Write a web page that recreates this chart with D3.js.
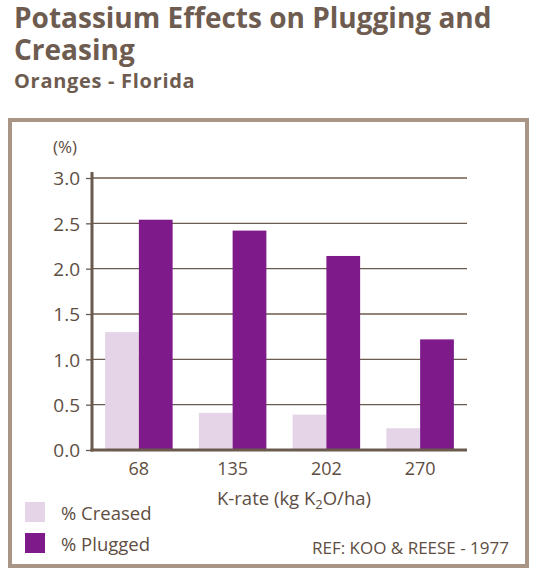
<!DOCTYPE html>
<html>
<head>
<meta charset="utf-8">
<script src="https://cdn.jsdelivr.net/npm/d3@7"></script>
<style>
  body { margin: 0; background: #fff; }
  text { font-family: "Open Sans", sans-serif; fill: #5e4d42; }
</style>
</head>
<body>
<div id="chart"></div>
<script>
// Data
const kRates = ["68", "135", "202", "270"];
const creased = [1.30, 0.41, 0.39, 0.24];
const plugged = [2.54, 2.42, 2.14, 1.22];
const yTicks = [0, 0.5, 1.0, 1.5, 2.0, 2.5, 3.0];
const seriesNames = ["% Creased", "% Plugged"];
const seriesColors = ["#e5d3e8", "#7e1a8a"];

const width = 533, height = 572;
const axisColor = "#6b5b4f";

const svg = d3.select("#chart")
	.append("svg")
	.attr("width", width)
	.attr("height", height);

// Titles
svg.append("text")
	.attr("x", 14).attr("y", 28)
	.style("font-size", "28px").style("font-weight", "bold").style("fill", "#6e5c50")
	.text("Potassium Effects on Plugging and");
svg.append("text")
	.attr("x", 14).attr("y", 60)
	.style("font-size", "28px").style("font-weight", "bold").style("fill", "#6e5c50")
	.text("Creasing");
svg.append("text")
	.attr("x", 14).attr("y", 88)
	.style("font-size", "20px").style("font-weight", "bold").style("fill", "#6e5c50")
	.style("letter-spacing", "0.7px")
	.text("Oranges - Florida");

// Frame around the chart
svg.append("rect")
	.attr("x", 10).attr("y", 120)
	.attr("width", 517).attr("height", 446)
	.attr("fill", "none")
	.attr("stroke", "#a89586")
	.attr("stroke-width", 4);

const plot = {left: 92, right: 467, top: 178, bottom: 450};

const x = d3.scaleBand()
	.domain(kRates)
	.range([plot.left, plot.right])
	.paddingInner(0.28)
	.paddingOuter(0.14);

const y = d3.scaleLinear()
	.domain([0, 3])
	.range([plot.bottom, plot.top]);

const xSub = d3.scaleBand()
	.domain([0, 1])
	.range([0, x.bandwidth()]);

// Gridlines
svg.append("g")
	.selectAll("line")
	.data(yTicks.filter(d => d > 0))
	.enter()
	.append("line")
	.attr("x1", plot.left).attr("x2", plot.right)
	.attr("y1", d => y(d)).attr("y2", d => y(d))
	.attr("stroke", axisColor)
	.attr("stroke-width", 1.3);

// Bars
const groups = svg.append("g")
	.selectAll("g")
	.data(kRates)
	.enter()
	.append("g")
	.attr("transform", d => `translate(${x(d)},0)`);

groups.selectAll("rect")
	.data((d, i) => [creased[i], plugged[i]])
	.enter()
	.append("rect")
	.attr("x", (d, j) => xSub(j))
	.attr("width", xSub.bandwidth())
	.attr("y", d => y(d))
	.attr("height", d => y(0) - y(d))
	.attr("fill", (d, j) => seriesColors[j]);

// Y axis
const yAxis = svg.append("g")
	.attr("transform", `translate(${plot.left},0)`)
	.call(d3.axisLeft(y).tickValues(yTicks).tickFormat(d3.format(".1f")).tickSize(6).tickPadding(6));
yAxis.select(".domain").remove();
yAxis.selectAll(".tick line").attr("stroke", axisColor).attr("stroke-width", 1.3);
yAxis.selectAll(".tick text")
	.attr("fill", null)
	.style("font-size", "19px")
	.attr("dy", "0.36em");
svg.append("line")
	.attr("x1", plot.left).attr("x2", plot.left)
	.attr("y1", plot.top - 6).attr("y2", plot.bottom + 1.5)
	.attr("stroke", axisColor).attr("stroke-width", 3);

// X axis
const xAxis = svg.append("g")
	.attr("transform", `translate(0,${plot.bottom})`)
	.call(d3.axisBottom(x).tickSize(0).tickPadding(12));
xAxis.select(".domain").remove();
xAxis.selectAll(".tick text")
	.attr("fill", null)
	.style("font-size", "18px");
svg.append("line")
	.attr("x1", plot.left - 1.5).attr("x2", plot.right)
	.attr("y1", plot.bottom).attr("y2", plot.bottom)
	.attr("stroke", axisColor).attr("stroke-width", 3);

// Axis labels
svg.append("text")
	.attr("x", 53).attr("y", 153)
	.style("font-size", "17px")
	.text("(%)");

const xTitle = svg.append("text")
	.attr("x", 294).attr("y", 505)
	.attr("text-anchor", "middle")
	.style("font-size", "18.5px");
xTitle.append("tspan").text("K-rate (kg K");
xTitle.append("tspan").attr("dy", 4).style("font-size", "13px").text("2");
xTitle.append("tspan").attr("dy", -4).text("O/ha)");

// Legend
const legend = svg.append("g")
	.selectAll("g")
	.data(seriesNames)
	.enter()
	.append("g")
	.attr("transform", (d, i) => `translate(25,${502 + i * 31})`);
legend.append("rect")
	.attr("width", 20).attr("height", 20)
	.attr("fill", (d, i) => seriesColors[i]);
legend.append("text")
	.attr("x", 36).attr("y", 18)
	.style("font-size", "18.5px")
	.text(d => d);

// Reference note
svg.append("text")
	.attr("x", 509).attr("y", 554)
	.attr("text-anchor", "end")
	.style("font-size", "17px")
	.text("REF: KOO & REESE - 1977");
</script>
</body>
</html>
